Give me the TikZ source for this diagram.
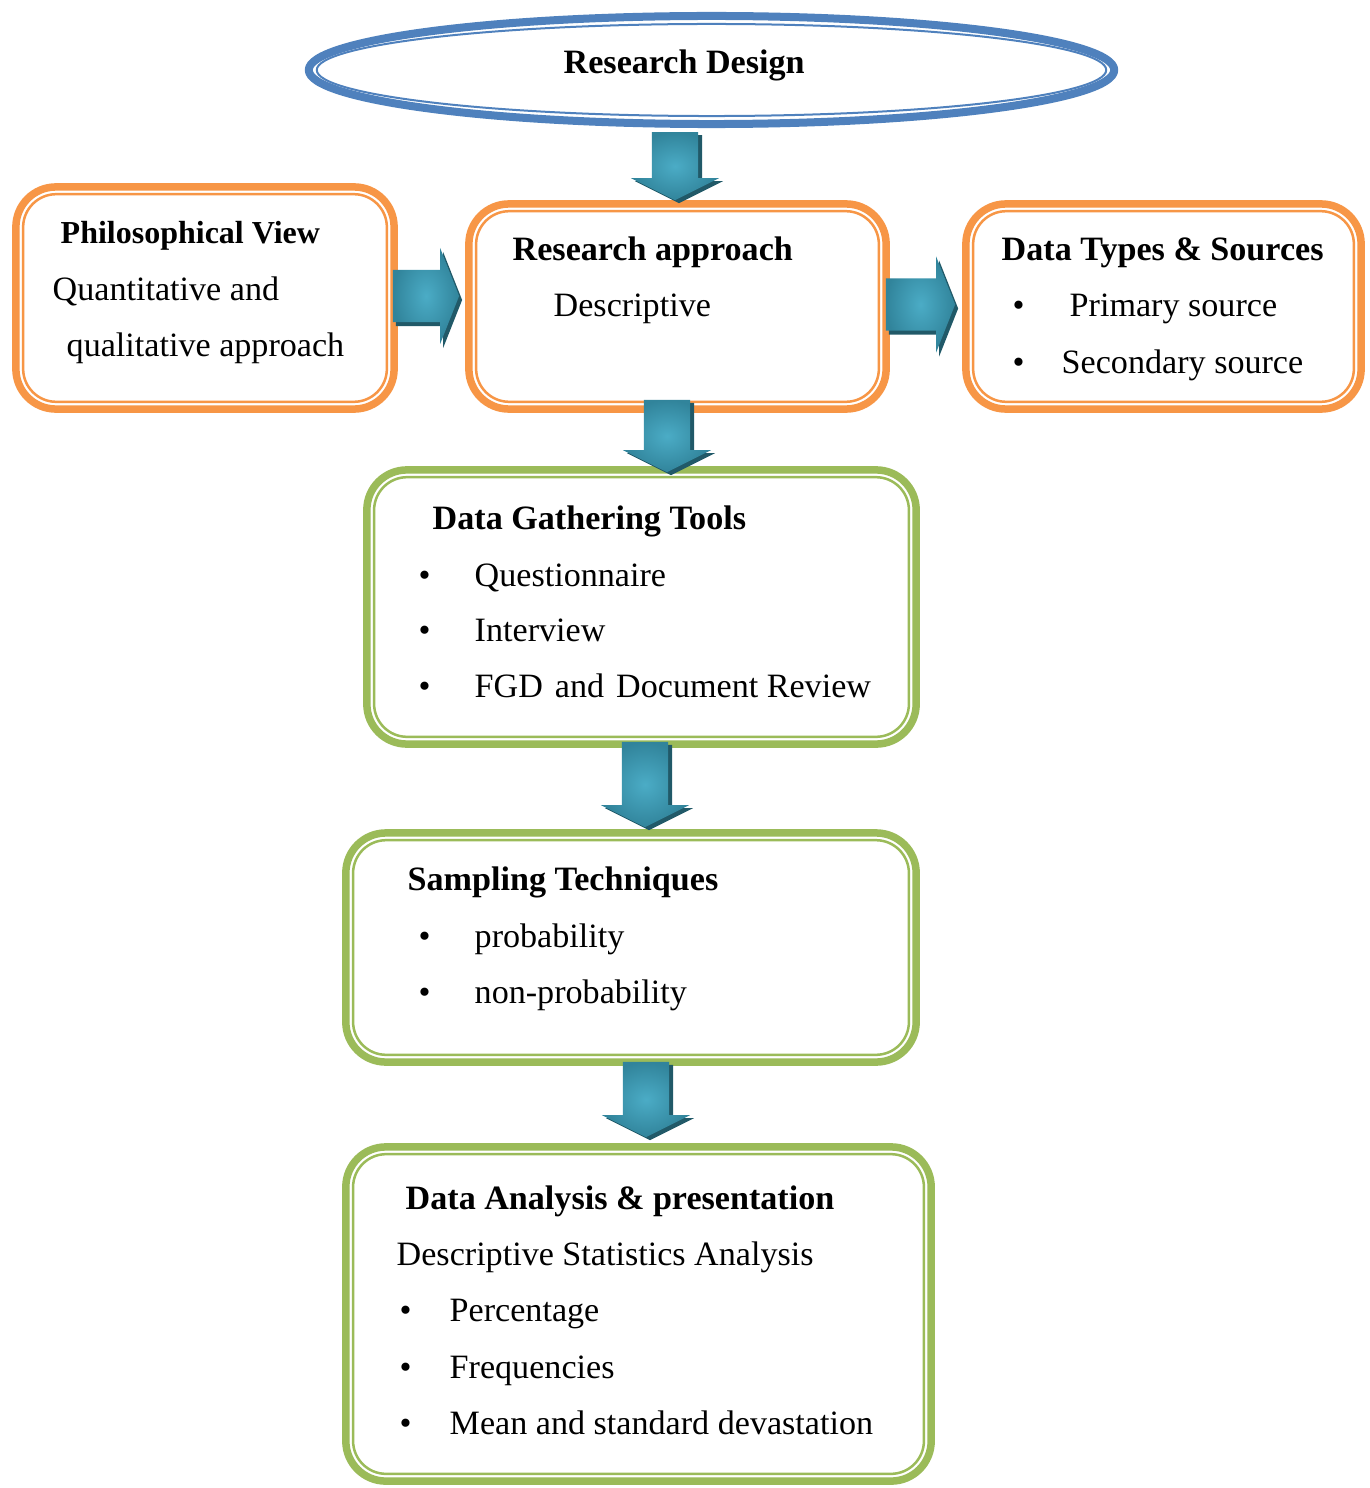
\documentclass[tikz,border=0pt]{standalone}
\usepackage{fontspec}
\setmainfont{Liberation Serif}
\usepackage{tikz}
\usetikzlibrary{shapes.geometric,calc}
\definecolor{dblue}{HTML}{4F81BD}
\definecolor{dorange}{HTML}{F79646}
\definecolor{dgreen}{HTML}{9BBB59}
\definecolor{tealD}{HTML}{31849B}
\definecolor{tealL}{HTML}{4BACC6}
\definecolor{tealS}{HTML}{215968}
\tikzset{
  every picture/.style={font=\fontsize{9.7}{12}\selectfont, line join=round},
  panel/.style={draw=#1, fill=white, line width=0.075cm, rounded corners=0.4cm, inner sep=0pt},
  rim/.style={draw=#1, line width=0.025cm, rounded corners=0.33cm},
  txt/.style={anchor=base west, inner sep=0pt},
  hd/.style={txt, font=\fontsize{9.7}{12}\selectfont\bfseries},
  arrowshade/.style={inner color=tealL, outer color=tealD},
  arrowdark/.style={fill=tealS},
}
\newcommand{\bul}[1]{\makebox[#1][l]{\textbullet}}
% block arrows (dx, dy = offset of the dark copy)
\newcommand{\downpath}[2]{(\x1+#1-0.23cm,\y1-#2) -- (\x1+#1+0.23cm,\y1-#2) -- (\x1+#1+0.23cm,\y2-#2+0.22cm) -- (\x1+#1+0.44cm,\y2-#2+0.22cm) -- (\x1+#1,\y2-#2) -- (\x1+#1-0.44cm,\y2-#2+0.22cm) -- (\x1+#1-0.23cm,\y2-#2+0.22cm) -- cycle}
\newcommand{\rightpath}[2]{(\x1+#1,\y1-#2+0.26cm) -- (\x2+#1-0.19cm,\y1-#2+0.26cm) -- (\x2+#1-0.19cm,\y1-#2+0.48cm) -- (\x2+#1,\y1-#2) -- (\x2+#1-0.19cm,\y1-#2-0.48cm) -- (\x2+#1-0.19cm,\y1-#2-0.26cm) -- (\x1+#1,\y1-#2-0.26cm) -- cycle}
\newcommand{\downblock}[5]{%
  \fill[arrowdark] let \p1=($(#1,0 |- #2)+(0,#3)$), \p2=($(#1,0 |- #4)+(0,#5)$) in \downpath{0.04cm}{0.03cm};
  \shade[arrowshade] let \p1=($(#1,0 |- #2)+(0,#3)$), \p2=($(#1,0 |- #4)+(0,#5)$) in \downpath{0cm}{0cm};
}
\newcommand{\rightblock}[4]{%
  \fill[arrowdark] let \p1=($(#1)+(#2)$), \p2=($(#3)+(#4,0)$) in \rightpath{0.03cm}{0.04cm};
  \shade[arrowshade] let \p1=($(#1)+(#2)$), \p2=($(#3)+(#4,0)$) in \rightpath{0cm}{0cm};
}

\begin{document}
\begin{tikzpicture}[x=0.01cm,y=-0.01cm]
\useasboundingbox (0,0) rectangle (1370,1488);

% title
\node[ellipse, draw=dblue, fill=white, line width=0.08cm, minimum width=8.05cm, minimum height=1.08cm, inner sep=0pt] (rd) at (711.5,70) {};
\draw[dblue, line width=0.02cm] (rd.center) ellipse [x radius=3.945cm, y radius=0.46cm];
\node[hd] (rdt) at (563,74) {Research Design};

% boxes
\node[panel=dorange, minimum width=3.78cm, minimum height=2.22cm] (phil) at (205,298) {};
\node[panel=dorange, minimum width=4.17cm, minimum height=2.05cm] (appr) at (677.5,306.5) {};
\node[panel=dorange, minimum width=3.95cm, minimum height=2.05cm] (types) at (1163.5,306.5) {};
\node[panel=dgreen, minimum width=5.49cm, minimum height=2.74cm] (gath) at (641.5,607) {};
\node[panel=dgreen, minimum width=5.70cm, minimum height=2.29cm] (samp) at (631,947.5) {};
\node[panel=dgreen, minimum width=5.85cm, minimum height=3.34cm] (anal) at (638.5,1314) {};
\foreach \n/\c in {phil/dorange, appr/dorange, types/dorange, gath/dgreen, samp/dgreen, anal/dgreen}
  \draw[rim=\c] ([shift={(11,11)}]\n.north west) rectangle ([shift={(-11,-11)}]\n.south east);

% texts
\node[hd, font=\fontsize{9.1}{12}\selectfont\bfseries] (pvt) at (60,243) {Philosophical View};
\node[txt] (pv1) at (52,300) {Quantitative and};
\node[txt] (pv2) at (66,356) {qualitative approach};

\node[hd] (rat) at (512,260) {Research approach};
\node[txt] (ra1) at (553,317) {Descriptive};

\node[hd] (dtt) at (1001,260) {Data Types \& Sources};
\node[txt] (dt1) at (1012,317) {\bul{0.57cm}Primary source};
\node[txt] (dt2) at (1012,373) {\bul{0.49cm}Secondary source};

\node[hd] (dgt) at (432,529) {Data Gathering Tools};
\node[txt] (dg1) at (418,586) {\bul{0.56cm}Questionnaire};
\node[txt] (dg2) at (418,641) {\bul{0.56cm}Interview};
\node[txt] (dg3) at (418,697) {\bul{0.56cm}FGD\hspace{0.12cm}and\hspace{0.12cm}Document Review};

\node[hd] (stt) at (407,890) {Sampling Techniques};
\node[txt] (st1) at (418,947) {\bul{0.56cm}probability};
\node[txt] (st2) at (418,1003) {\bul{0.56cm}non-probability};

\node[hd] (dat) at (405,1209) {Data Analysis \& presentation};
\node[txt] (da0) at (396,1265) {Descriptive Statistics Analysis};
\node[txt] (da1) at (399,1321) {\bul{0.50cm}Percentage};
\node[txt] (da2) at (399,1378) {\bul{0.50cm}Frequencies};
\node[txt] (da3) at (399,1434) {\bul{0.50cm}Mean and standard devastation};

% arrows
\downblock{675}{rd.south}{4}{appr.north}{0}
\downblock{667}{appr.south}{-13}{gath.north}{6}
\downblock{645}{gath.south}{-6}{samp.north}{-2}
\downblock{646}{samp.south}{-4}{anal.north}{-6}
\rightblock{phil.east}{-5,-2}{appr.west}{-6}
\rightblock{appr.east}{-4,-2}{types.west}{-7}
\end{tikzpicture}
\end{document}
